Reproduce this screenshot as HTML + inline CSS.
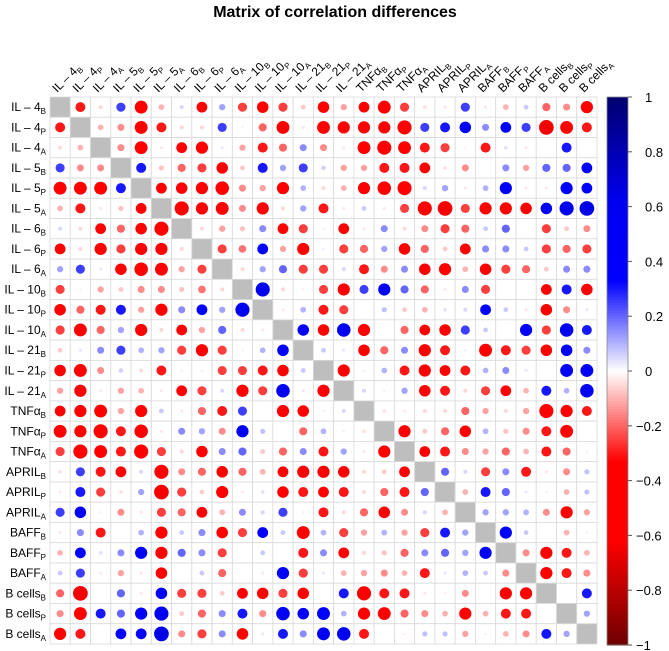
<!DOCTYPE html>
<html><head><meta charset="utf-8">
<style>
body{margin:0;background:#fff;}
svg{display:block;font-family:"Liberation Sans",Arial,sans-serif;}
</style></head>
<body>
<svg id="chart" width="669" height="651" viewBox="0 0 669 651" xmlns="http://www.w3.org/2000/svg">
<text x="335" y="17" text-anchor="middle" font-size="16" font-weight="bold" fill="#000">Matrix of correlation differences</text>
<g id="grid"></g>
<g id="labels"></g>
<g id="cbar"></g>
</svg>
<script>
const varBase = ["IL – 4","IL – 4","IL – 4","IL – 5","IL – 5","IL – 5","IL – 6","IL – 6","IL – 6","IL – 10","IL – 10","IL – 10","IL – 21","IL – 21","IL – 21","TNFα","TNFα","TNFα","APRIL","APRIL","APRIL","BAFF","BAFF","BAFF","B  cells","B  cells","B  cells"];
const varSub = ["B","P","A","B","P","A","B","P","A","B","P","A","B","P","A","B","P","A","B","P","A","B","P","A","B","P","A"];
// lower triangle values (row i, columns 0..i-1)
const lowerRows = [
[],
[-0.3],
[-0.05,-0.1],
[0.25,-0.15,-0.15],
[-0.5,-0.5,-0.5,0.3],
[-0.1,-0.3,-0.03,-0.08,-0.35],
[0.05,-0.05,-0.35,-0.2,-0.4,-0.6],
[-0.35,-0.05,-0.45,-0.25,-0.45,-0.45,-0.05],
[0.12,0.25,0.03,-0.4,-0.55,-0.5,-0.12,-0.25],
[-0.25,-0.02,-0.12,-0.07,-0.15,-0.15,-0.08,-0.18,-0.05],
[-0.4,-0.2,-0.3,0.3,-0.12,-0.45,0.15,0.35,0.12,0.6],
[-0.25,-0.5,-0.2,0.12,-0.45,-0.05,-0.35,-0.12,0.2,-0.05,-0.03],
[-0.07,0.03,0.15,0.25,0.1,0.12,-0.25,-0.45,-0.25,-0.02,0.1,0.4],
[-0.4,-0.5,-0.15,0.06,-0.05,-0.3,0.02,0.02,-0.25,-0.25,-0.3,-0.4,0.07],
[-0.12,-0.45,-0.03,-0.12,-0.1,-0.03,-0.35,-0.25,0.05,-0.45,-0.25,0.55,0.03,-0.45],
[-0.35,-0.45,-0.5,-0.12,-0.45,0.07,-0.03,-0.2,-0.3,0.25,0.01,-0.45,-0.4,-0.02,0.05],
[-0.5,-0.45,-0.6,-0.3,-0.55,-0.03,0.15,0.12,-0.15,0.45,0.08,0.0,-0.2,0.1,0.02,-0.04],
[-0.25,-0.6,-0.5,-0.3,-0.6,-0.25,-0.05,-0.4,0.15,0.2,-0.07,-0.2,0.15,-0.3,0.12,-0.03,-0.45],
[-0.04,0.25,-0.3,-0.35,0.05,-0.6,-0.15,-0.2,-0.4,-0.2,-0.1,-0.35,-0.45,-0.45,-0.4,-0.05,-0.07,-0.35],
[-0.03,0.3,-0.25,-0.04,0.12,-0.65,-0.25,-0.07,-0.45,-0.03,0.04,-0.4,-0.3,-0.35,-0.3,-0.05,-0.2,-0.3,0.2],
[0.25,0.4,-0.02,-0.15,-0.03,-0.25,-0.2,-0.35,-0.1,0.15,0.05,0.25,0.02,-0.3,-0.05,-0.2,-0.4,-0.15,0.05,-0.1],
[-0.03,0.15,-0.3,0,0.1,-0.45,0.07,0.15,-0.4,-0.25,0.35,0.07,-0.5,0.1,-0.25,-0.12,0.1,-0.12,-0.25,0.3,0.12],
[-0.1,0.35,0.04,0.15,0.45,-0.45,0.2,0.15,-0.25,0.01,0.07,0.01,-0.3,0.15,-0.35,-0.05,-0.08,-0.2,0.15,0.2,0.12,0.45],
[0.07,0.25,-0.03,-0.12,-0.03,-0.4,0.01,0.07,-0.2,0.01,-0.03,0.45,-0.25,0.03,-0.1,-0.12,-0.15,-0.1,-0.3,0.03,0.1,0.07,-0.15],
[-0.2,-0.65,0,0.2,-0.03,0.4,-0.25,-0.25,-0.07,-0.35,-0.4,-0.25,-0.4,0.01,0.3,-0.6,-0.3,-0.3,-0.03,-0.02,-0.15,0,-0.45,-0.45],
[-0.15,-0.5,0.3,0.2,0.45,0.6,-0.07,-0.2,0.15,0.3,-0.15,0.55,0.4,0.5,0.1,-0.45,-0.5,-0.2,-0.15,-0.1,-0.45,-0.1,-0.3,-0.3,0],
[-0.45,-0.3,0,0.35,0.35,0.65,-0.15,-0.25,0.15,-0.4,0.03,0.3,0.15,0.5,0.55,-0.3,0,-0.02,0.08,0.08,-0.12,0.02,-0.1,-0.15,0.3,0.12]
];
const legendTicks = [1,0.8,0.6,0.4,0.2,0,-0.2,-0.4,-0.6,-0.8,-1];

const NS="http://www.w3.org/2000/svg";
const N = varBase.length;
const X0=50, Y0=97, W=547;
const cell = W/N;
const xPos = j => X0 + (j+0.5)*cell;
const yPos = i => Y0 + (i+0.5)*cell;
function lerp(a,b,t){return Math.round(a+(b-a)*t);}
const stops=[[-1,[110,0,0]],[-0.62,[255,0,0]],[-0.33,[255,0,0]],[0,[255,255,255]],[0.33,[0,0,255]],[0.62,[0,0,240]],[1,[0,0,110]]];
function colorOf(v){
  for(let k=0;k<stops.length-1;k++){
    const [a,ca]=stops[k],[b,cb]=stops[k+1];
    if(v>=a&&v<=b){const t=(v-a)/(b-a);return `rgb(${lerp(ca[0],cb[0],t)},${lerp(ca[1],cb[1],t)},${lerp(ca[2],cb[2],t)})`;}
  }
  return "#fff";
}
function mk(tag,attrs,parent){const e=document.createElementNS(NS,tag);for(const k in attrs)e.setAttribute(k,attrs[k]);parent.appendChild(e);return e;}
function val(i,j){ if(i===j) return null; return i>j?lowerRows[i][j]:lowerRows[j][i]; }

const grid=document.getElementById('grid');
for(let i=0;i<N;i++){
  for(let j=0;j<N;j++){
    const r=mk('rect',{x:X0+j*cell,y:Y0+i*cell,width:cell,height:cell,fill:i===j?'#bebebe':'#fff',stroke:'#d9d9d9','stroke-width':0.8},grid);
    
    
    const v=val(i,j);
    if(v!==null && v!==0){
      const c=mk('circle',{cx:xPos(j),cy:yPos(i),r:0.45*Math.sqrt(Math.abs(v))*cell,fill:colorOf(v)},grid);
      
      
    }
  }
}
const labels=document.getElementById('labels');
for(let i=0;i<N;i++){
  const t=mk('text',{x:X0-4,y:yPos(i)+4,'text-anchor':'end','font-size':12,fill:'#000'},labels);
  
  
  t.appendChild(document.createTextNode(varBase[i]));
  const s=mk('tspan',{'font-size':8,dy:3},t); s.textContent=varSub[i];
  const x=xPos(i)-3, y=Y0-4;
  const c=mk('text',{x:x,y:y,'font-size':12,fill:'#000',transform:`rotate(-45 ${x} ${y})`},labels);
  
  
  c.appendChild(document.createTextNode(varBase[i]));
  const s2=mk('tspan',{'font-size':8,dy:3},c); s2.textContent=varSub[i];
}
const cbar=document.getElementById('cbar');
const CX=607, CW=21, CY0=97, CY1=645;
const steps=200;
for(let k=0;k<steps;k++){
  const v=1-2*(k+0.5)/steps;
  const r=mk('rect',{x:CX,y:CY0+k*(CY1-CY0)/steps,width:CW,height:(CY1-CY0)/steps+0.6,fill:colorOf(v)},cbar);
  
  
}
const frame=mk('rect',{x:CX,y:CY0,width:CW,height:CY1-CY0,fill:'none',stroke:'#888','stroke-width':0.8},cbar);


legendTicks.forEach(v=>{
  const y=CY0+(1-v)/2*(CY1-CY0);
  const l=mk('line',{x1:CX+CW,x2:CX+CW+4,y1:y,y2:y,stroke:'#555'},cbar);
  
  
  const t=mk('text',{x:v<0?636:645,y:y+5,'font-size':13,fill:'#000'},cbar);
  
  
  t.textContent = v<0 ? '−'+Math.abs(v) : String(v);
});
</script>
</body></html>
